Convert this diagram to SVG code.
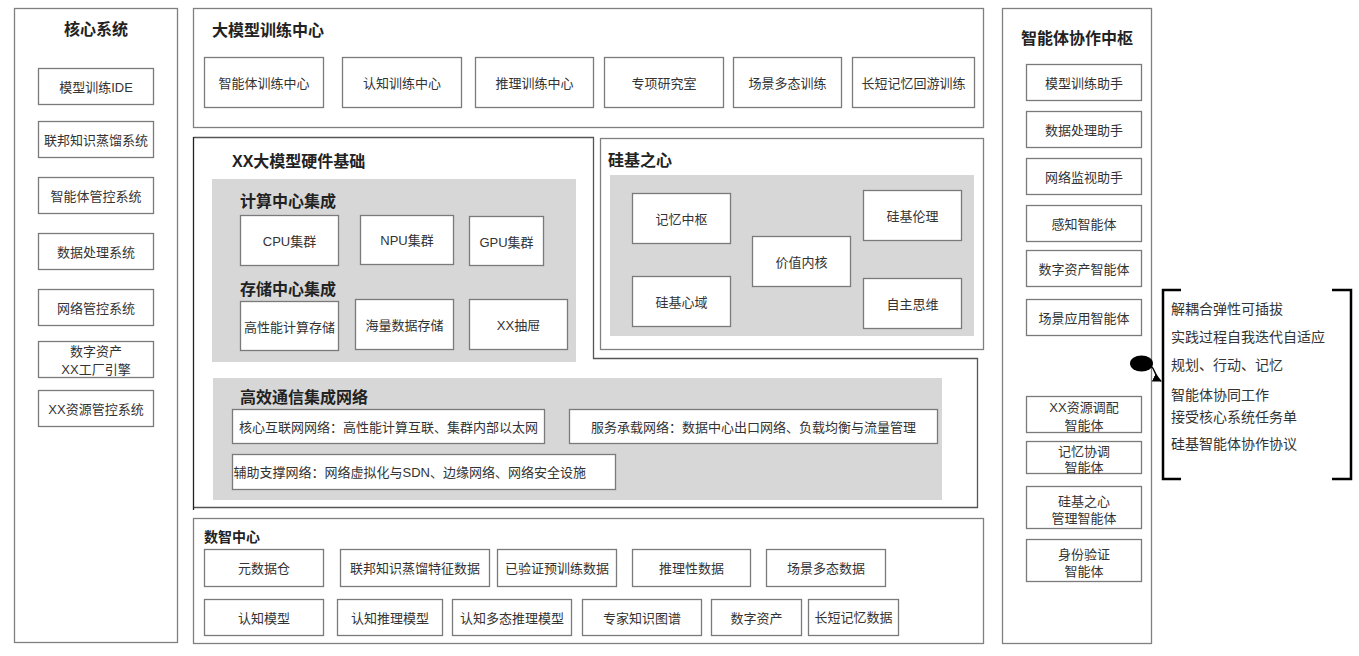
<svg xmlns="http://www.w3.org/2000/svg" width="1359" height="656" viewBox="0 0 1359 656">
<defs>
<style>
text{font-family:"Liberation Sans","Noto Sans CJK SC",sans-serif;fill:#333;}
.t{font-size:13px;text-anchor:middle;dominant-baseline:central;}
.h{font-size:16px;font-weight:bold;fill:#222;dominant-baseline:central;}
.hs{font-size:14px;font-weight:bold;fill:#222;dominant-baseline:central;}
.b{fill:#fff;stroke:#7a7a7a;stroke-width:1.3;}
.c{fill:#fff;stroke:#808080;stroke-width:1.3;}
.g{fill:#d7d7d7;stroke:none;}
.l{font-size:14px;dominant-baseline:central;}
.ln{fill:none;stroke:#555;stroke-width:1.3;}
</style>
<marker id="arr" viewBox="0 0 10 10" refX="9" refY="5" markerWidth="6" markerHeight="6" orient="auto">
<path d="M0,0 L10,5 L0,10 Z" fill="#000"/>
</marker>
</defs>
<rect width="1359" height="656" fill="#fff"/>

<g id="core-system">
<rect class="c" x="14.5" y="8.5" width="163" height="634"/>
<text class="h" x="96" y="29" text-anchor="middle">核心系统</text>
<g id="core-ide"><rect class="b" x="38.5" y="68.5" width="115" height="36"/><text class="t" x="96" y="87">模型训练IDE</text></g>
<g id="core-fed"><rect class="b" x="38.5" y="121.5" width="115" height="36"/><text class="t" x="96" y="140">联邦知识蒸馏系统</text></g>
<g id="core-agent"><rect class="b" x="38.5" y="177.5" width="115" height="36"/><text class="t" x="96" y="196">智能体管控系统</text></g>
<g id="core-data"><rect class="b" x="38.5" y="233.5" width="115" height="36"/><text class="t" x="96" y="252">数据处理系统</text></g>
<g id="core-net"><rect class="b" x="38.5" y="289.5" width="115" height="36"/><text class="t" x="96" y="308">网络管控系统</text></g>
<g id="core-asset"><rect class="b" x="38.5" y="341.5" width="115" height="36"/><text class="t" x="96" y="351.5">数字资产</text><text class="t" x="96" y="369">XX工厂引擎</text></g>
<g id="core-res"><rect class="b" x="38.5" y="390.5" width="115" height="36"/><text class="t" x="96" y="409">XX资源管控系统</text></g>
</g>

<g id="training-center">
<rect class="c" x="193.5" y="8.5" width="790" height="119"/>
<text class="h" x="212" y="30">大模型训练中心</text>
<g id="tc-1"><rect class="b" x="204.5" y="57.5" width="119" height="50"/><text class="t" x="264" y="83">智能体训练中心</text></g>
<g id="tc-2"><rect class="b" x="342.5" y="57.5" width="119" height="50"/><text class="t" x="402" y="83">认知训练中心</text></g>
<g id="tc-3"><rect class="b" x="475.5" y="57.5" width="118" height="50"/><text class="t" x="534.5" y="83">推理训练中心</text></g>
<g id="tc-4"><rect class="b" x="604.5" y="57.5" width="119" height="50"/><text class="t" x="664" y="83">专项研究室</text></g>
<g id="tc-5"><rect class="b" x="733.5" y="57.5" width="108" height="50"/><text class="t" x="787.5" y="83">场景多态训练</text></g>
<g id="tc-6"><rect class="b" x="852.5" y="57.5" width="122" height="50"/><text class="t" x="913.5" y="83">长短记忆回游训练</text></g>
</g>

<g id="hardware-outline">
<path class="ln" d="M193.5,137.5 H593.5 V358.5 H977.5 V507.5 H193.5"/>
<line x1="193.5" y1="137" x2="193.5" y2="510" stroke="#222" stroke-width="1.3"/>
</g>

<g id="hardware">
<text class="h" x="232" y="161">XX大模型硬件基础</text>
<rect class="g" x="212" y="179" width="364" height="183"/>
<text class="h" x="240" y="201">计算中心集成</text>
<g id="hw-cpu"><rect class="b" x="240.5" y="215.5" width="98" height="50"/><text class="t" x="289.5" y="241">CPU集群</text></g>
<g id="hw-npu"><rect class="b" x="360.5" y="215.5" width="93" height="49"/><text class="t" x="407" y="240.5">NPU集群</text></g>
<g id="hw-gpu"><rect class="b" x="469.5" y="216.5" width="74" height="49"/><text class="t" x="506.5" y="242">GPU集群</text></g>
<text class="h" x="240" y="289">存储中心集成</text>
<g id="hw-hpc"><rect class="b" x="240.5" y="301.5" width="98" height="49"/><text class="t" x="289.5" y="327">高性能计算存储</text></g>
<g id="hw-mass"><rect class="b" x="355.5" y="299.5" width="98" height="50"/><text class="t" x="404.5" y="325">海量数据存储</text></g>
<g id="hw-drawer"><rect class="b" x="469.5" y="299.5" width="98" height="50"/><text class="t" x="518.5" y="325">XX抽屉</text></g>
</g>

<g id="silicon-heart">
<rect class="c" x="600.5" y="138.5" width="383" height="211"/>
<text class="h" x="608" y="160.5">硅基之心</text>
<rect class="g" x="610" y="175" width="364" height="161"/>
<g id="sh-memory"><rect class="b" x="632.5" y="193.5" width="98" height="50"/><text class="t" x="681.5" y="219">记忆中枢</text></g>
<g id="sh-mind"><rect class="b" x="632.5" y="276.5" width="98" height="50"/><text class="t" x="681.5" y="302">硅基心域</text></g>
<g id="sh-value"><rect class="b" x="752.5" y="236.5" width="98" height="50"/><text class="t" x="801.5" y="262">价值内核</text></g>
<g id="sh-ethics"><rect class="b" x="863.5" y="190.5" width="98" height="50"/><text class="t" x="912.5" y="216">硅基伦理</text></g>
<g id="sh-think"><rect class="b" x="863.5" y="278.5" width="98" height="50"/><text class="t" x="912.5" y="304">自主思维</text></g>
</g>

<g id="network">
<rect class="g" x="213" y="378" width="729" height="122"/>
<text class="h" x="240" y="397">高效通信集成网络</text>
<g id="net-core"><rect class="b" x="232.5" y="409.5" width="312" height="34"/><text class="t" x="388.5" y="427">核心互联网网络：高性能计算互联、集群内部以太网</text></g>
<g id="net-service"><rect class="b" x="569.5" y="409.5" width="368" height="34"/><text class="t" x="753.5" y="427">服务承载网络：数据中心出口网络、负载均衡与流量管理</text></g>
<g id="net-aux"><rect class="b" x="232.5" y="454.5" width="383" height="35"/><text class="t" x="233.5" y="472" text-anchor="start" style="text-anchor:start">辅助支撑网络：网络虚拟化与SDN、边缘网络、网络安全设施</text></g>
</g>

<g id="data-center">
<rect class="c" x="193.5" y="518.5" width="790" height="125"/>
<text class="hs" x="204" y="537">数智中心</text>
<g id="dc-1"><rect class="b" x="204.5" y="549.5" width="119" height="37"/><text class="t" x="264" y="568">元数据仓</text></g>
<g id="dc-2"><rect class="b" x="340.5" y="549.5" width="149" height="37"/><text class="t" x="415" y="568">联邦知识蒸馏特征数据</text></g>
<g id="dc-3"><rect class="b" x="497.5" y="549.5" width="119" height="37"/><text class="t" x="557" y="568">已验证预训练数据</text></g>
<g id="dc-4"><rect class="b" x="632.5" y="549.5" width="118" height="37"/><text class="t" x="691.5" y="568">推理性数据</text></g>
<g id="dc-5"><rect class="b" x="766.5" y="549.5" width="119" height="37"/><text class="t" x="826" y="568">场景多态数据</text></g>
<g id="dc-6"><rect class="b" x="204.5" y="599.5" width="119" height="36"/><text class="t" x="264" y="618">认知模型</text></g>
<g id="dc-7"><rect class="b" x="337.5" y="599.5" width="105" height="36"/><text class="t" x="390" y="618">认知推理模型</text></g>
<g id="dc-8"><rect class="b" x="452.5" y="599.5" width="119" height="36"/><text class="t" x="512" y="618">认知多态推理模型</text></g>
<g id="dc-9"><rect class="b" x="582.5" y="599.5" width="119" height="36"/><text class="t" x="642" y="618">专家知识图谱</text></g>
<g id="dc-10"><rect class="b" x="711.5" y="599.5" width="90" height="36"/><text class="t" x="756.5" y="618">数字资产</text></g>
<g id="dc-11"><rect class="b" x="808.5" y="599.5" width="90" height="36"/><text class="t" x="853.5" y="617">长短记忆数据</text></g>
</g>

<g id="agent-hub">
<rect class="c" x="1002.5" y="8.5" width="149" height="635"/>
<text class="h" x="1077" y="38" text-anchor="middle">智能体协作中枢</text>
<g id="ah-1"><rect class="b" x="1026.5" y="64.5" width="115" height="36"/><text class="t" x="1084" y="83">模型训练助手</text></g>
<g id="ah-2"><rect class="b" x="1026.5" y="111.5" width="115" height="36"/><text class="t" x="1084" y="130">数据处理助手</text></g>
<g id="ah-3"><rect class="b" x="1026.5" y="158.5" width="115" height="36"/><text class="t" x="1084" y="177">网络监视助手</text></g>
<g id="ah-4"><rect class="b" x="1026.5" y="205.5" width="115" height="36"/><text class="t" x="1084" y="224">感知智能体</text></g>
<g id="ah-5"><rect class="b" x="1026.5" y="250.5" width="115" height="36"/><text class="t" x="1084" y="269">数字资产智能体</text></g>
<g id="ah-6"><rect class="b" x="1026.5" y="299.5" width="115" height="36"/><text class="t" x="1084" y="318">场景应用智能体</text></g>
<g id="ah-7"><rect class="b" x="1026.5" y="396.5" width="115" height="36"/><text class="t" x="1084" y="407.5">XX资源调配</text><text class="t" x="1084" y="425">智能体</text></g>
<g id="ah-8"><rect class="b" x="1026.5" y="441.5" width="115" height="32"/><text class="t" x="1084" y="451">记忆协调</text><text class="t" x="1084" y="467.5">智能体</text></g>
<g id="ah-9"><rect class="b" x="1026.5" y="486.5" width="115" height="42"/><text class="t" x="1084" y="501">硅基之心</text><text class="t" x="1084" y="518">管理智能体</text></g>
<g id="ah-10"><rect class="b" x="1026.5" y="539.5" width="115" height="42"/><text class="t" x="1084" y="554">身份验证</text><text class="t" x="1084" y="571">智能体</text></g>
</g>

<g id="features">
<path d="M1181,290 H1163 V479 H1181" fill="none" stroke="#000" stroke-width="2.5"/>
<path d="M1332,290 H1351 V479 H1332" fill="none" stroke="#000" stroke-width="2.5"/>
<text class="l" x="1171" y="309">解耦合弹性可插拔</text>
<text class="l" x="1171" y="337">实践过程自我迭代自适应</text>
<text class="l" x="1171" y="365">规划、行动、记忆</text>
<text class="l" x="1171" y="395">智能体协同工作</text>
<text class="l" x="1171" y="417">接受核心系统任务单</text>
<text class="l" x="1171" y="444">硅基智能体协作协议</text>
</g>

<g id="connectors">
<ellipse cx="1141.5" cy="363.5" rx="11.5" ry="8" fill="#000"/>
<path d="M1151,366 C1156,370 1155,378 1161,381" fill="none" stroke="#000" stroke-width="1.5" marker-end="url(#arr)"/>
</g>
</svg>
